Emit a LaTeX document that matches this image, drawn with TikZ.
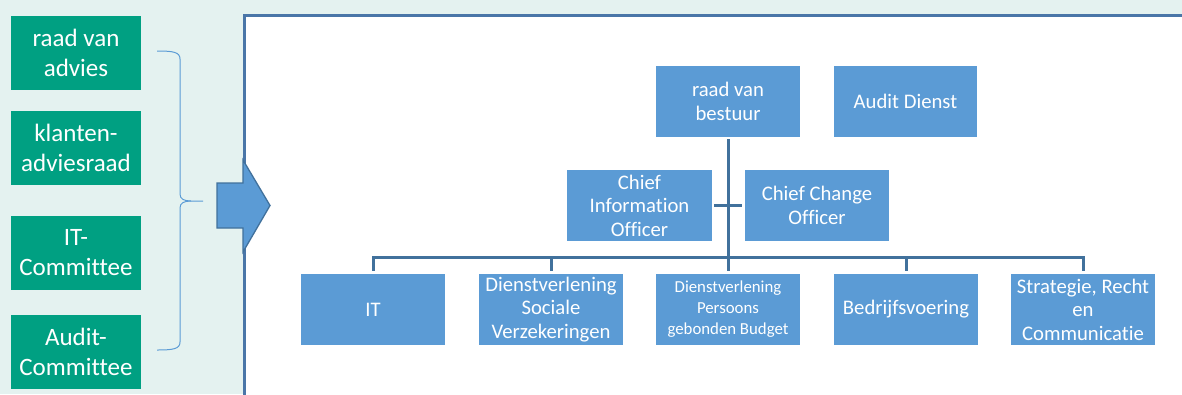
\documentclass[tikz,border=0pt]{standalone}
\usepackage{fontspec}
\setmainfont[Ligatures=NoCommon]{Carlito}
\definecolor{bgteal}{RGB}{228,242,240}
\definecolor{gfill}{RGB}{0,160,130}
\definecolor{bfill}{RGB}{91,155,213}
\definecolor{bline}{RGB}{65,113,156}
\definecolor{frameblue}{RGB}{74,118,168}
\tikzset{
  gbox/.style={fill=gfill, text=white, minimum width=130pt, minimum height=74pt, inner sep=0pt, align=center, font=\fontsize{25}{30}\selectfont},
  bbox/.style={fill=bfill, text=white, minimum width=144pt, minimum height=71pt, inner sep=0pt, align=center, font=\fontsize{20.7}{23.5}\selectfont},
  conn/.style={draw=bline, line width=3pt},
  bracestyle/.style={draw=bfill, line width=1pt},
}
\begin{document}
\begin{tikzpicture}[x=1pt,y=-1pt]
\useasboundingbox (0,0) rectangle (1182,394);
\fill[bgteal] (0,0) rectangle (1182,394);
% left green boxes
\node[gbox] (g1) at (76,53) {raad van\\advies};
\node[gbox] (g2) at (76,148) {klanten-\\adviesraad};
\node[gbox] (g3) at (76,253) {IT-\\Committee};
\node[gbox] (g4) at (76,352) {Audit-\\Committee};
% brace
\draw[bracestyle] (157,51) .. controls (173,51) and (180,52) .. (180,59) -- (180,194) .. controls (180,199) and (184,201) .. (191,201) -- (203,201);
\draw[bracestyle] (157,350) .. controls (173,350) and (180,349) .. (180,342) -- (180,208) .. controls (180,203) and (184,201) .. (191,201);
% white frame
\draw[draw=frameblue, line width=3pt, fill=white] (244.5,15.5) rectangle (1200,410);
% block arrow
\draw[fill=bfill, draw=bline, line width=1.3pt, line join=miter] (217,183) -- (243,183) -- (243,160) -- (270,205.5) -- (243,252) -- (243,228) -- (217,228) -- cycle;
% org chart
\node[bbox] (rvb) at (728,101.5) {raad van\\bestuur};
\node[bbox, minimum width=143pt] (ad) at (905.5,101.5) {Audit Dienst};
\node[bbox, minimum width=145pt] (cio) at (639.5,205.5) {Chief\\Information\\Officer};
\node[bbox] (cco) at (817,205.5) {Chief Change\\Officer};
\node[bbox] (it) at (373,309.5) {IT};
\node[bbox] (dsv) at (551,309.5) {Dienstverlening\\Sociale\\Verzekeringen};
\node[bbox, font=\fontsize{16.8}{21}\selectfont] (dpb) at (728,309.5) {Dienstverlening\\Persoons\\gebonden Budget};
\node[bbox] (bv) at (906,309.5) {Bedrijfsvoering};
\node[bbox] (src) at (1083,309.5) {Strategie, Recht\\en\\Communicatie};
\coordinate (bus) at (0,257);
\draw[conn] ([yshift=-2pt]rvb.south) -- (rvb.south |- bus);
\draw[conn, shorten <=2pt, shorten >=3pt] (cio.east) -- (cco.west);
\draw[conn, line cap=rect] (it.north |- bus) -- (src.north |- bus);
\foreach \n in {it,dsv,dpb,bv,src}{
  \draw[conn] (\n.north |- bus) -- ([yshift=3pt]\n.north);
}
\end{tikzpicture}
\end{document}
